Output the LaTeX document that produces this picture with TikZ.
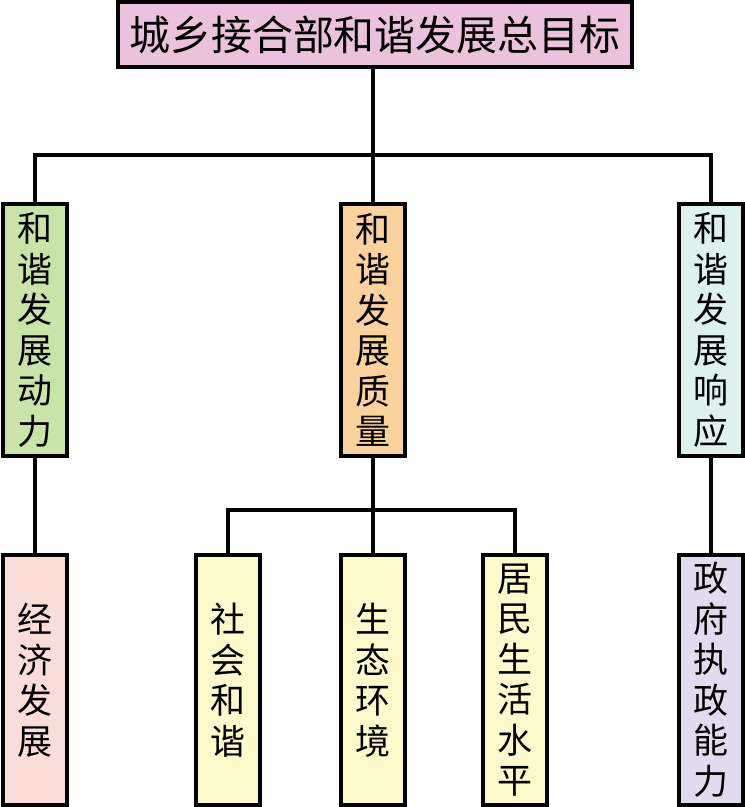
\documentclass[tikz,border=0pt]{standalone}
\usepackage{fontspec}
\setmainfont{Noto Sans CJK SC}
\usepackage{tikz}
\usetikzlibrary{positioning}

\definecolor{zongpink}{HTML}{EBC2DD}
\definecolor{donggreen}{HTML}{C8E4A6}
\definecolor{zhiorange}{HTML}{F9D29E}
\definecolor{xiangcyan}{HTML}{DDF1EF}
\definecolor{jingpink}{HTML}{FADDD7}
\definecolor{shengyellow}{HTML}{FDF9CA}
\definecolor{zhenglilac}{HTML}{E2DBEF}

\tikzset{
  kuang/.style={draw=black, line width=3.2pt, inner sep=0pt, align=center,
    minimum width=64pt, font=\fontsize{35}{40.5}\selectfont},
  zhongji/.style={kuang, minimum height=252pt},
  diji/.style={kuang, minimum height=250pt},
  lianxian/.style={line width=3.2pt}
}

\begin{document}
\begin{tikzpicture}[x=1pt, y=-1pt]
		\useasboundingbox (0,0) rectangle (745,807);
		%总目标
		\node[kuang, fill=zongpink, minimum width=514pt, minimum height=65pt,
		  font=\fontsize{41}{45}\selectfont] (zong) at (375,34.5) {城乡接合部和谐发展总目标};
		% 第二层
		\node[zhongji, fill=donggreen] (dongli) at (35,330) {和\\谐\\发\\展\\动\\力};
		\node[zhongji, fill=zhiorange] (zhiliang) at (373,330) {和\\谐\\发\\展\\质\\量};
		\node[zhongji, fill=xiangcyan] (xiangying) at (711,330) {和\\谐\\发\\展\\响\\应};
		% 第三层
		\node[diji, fill=jingpink] (jingji) at (35,680) {经\\济\\发\\展};
		\node[diji, fill=shengyellow] (shehui) at (228,680) {社\\会\\和\\谐};
		\node[diji, fill=shengyellow] (shengtai) at (373,680) {生\\态\\环\\境};
		\node[diji, fill=shengyellow] (jumin) at (515,680) {居\\民\\生\\活\\水\\平};
		\node[diji, fill=zhenglilac] (zhengfu) at (711,680) {政\\府\\执\\政\\能\\力};
		% 连线
		\coordinate (zongxian) at (373,155);
		\coordinate (zhixian) at (373,510);
		\draw[lianxian] (zong.south -| zongxian) -- (zongxian);
		\draw[lianxian] (dongli.north) |- (zongxian) -| (xiangying.north);
		\draw[lianxian] (zongxian) -- (zhiliang.north);
		\draw[lianxian] (dongli.south) -- (jingji.north);
		\draw[lianxian] (xiangying.south) -- (zhengfu.north);
		\draw[lianxian] (zhiliang.south) -- (zhixian);
		\draw[lianxian] (shehui.north) |- (zhixian) -| (jumin.north);
		\draw[lianxian] (zhixian) -- (shengtai.north);
	\end{tikzpicture}
\end{document}
